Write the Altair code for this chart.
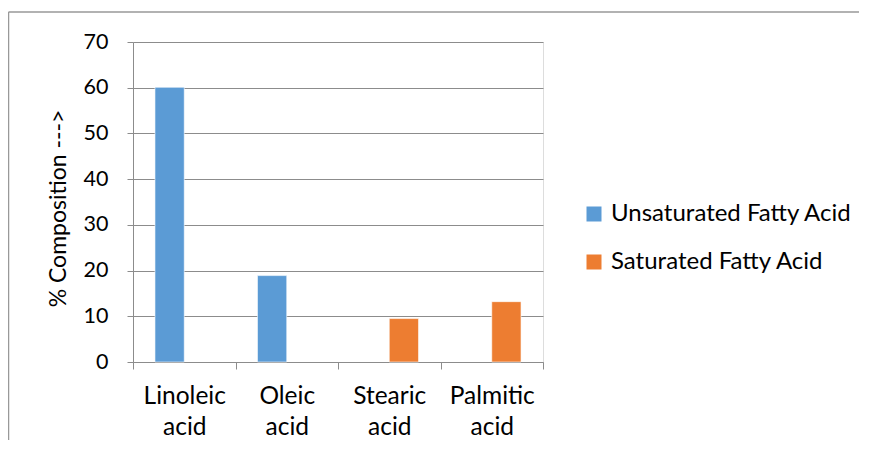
import altair as alt
import pandas as pd

categories = ["Linoleic acid", "Oleic acid", "Stearic acid", "Palmitic acid"]
types = ["Unsaturated Fatty Acid", "Unsaturated Fatty Acid", "Saturated Fatty Acid", "Saturated Fatty Acid"]
values = [60.1, 18.9, 9.5, 13.2]
series = ["Unsaturated Fatty Acid", "Saturated Fatty Acid"]
colors = ["#5B9BD5", "#ED7D31"]
y_ticks = [0, 10, 20, 30, 40, 50, 60, 70]

df = pd.DataFrame({"acid": categories, "type": types, "value": values})

FONT = "Lato"
GRID = "#8C8C8C"

bars = alt.Chart(df).mark_bar(stroke="white", strokeWidth=0.6).encode(
    x=alt.X(
        "acid:N",
        sort=categories,
        scale=alt.Scale(paddingInner=0, paddingOuter=0),
        axis=alt.Axis(
            title=None,
            labelAngle=0,
            labelExpr="split(datum.label, ' ')",
            labelFontSize=24.5,
            labelLineHeight=31,
            labelPadding=15,
            labelColor="black",
            labelFont=FONT,
            labelLimit=300,
            tickBand="extent",
            tickSize=7,
            tickColor=GRID,
            domainColor=GRID,
            grid=False,
        ),
    ),
    xOffset=alt.XOffset(
        "type:N",
        scale=alt.Scale(domain=series, paddingInner=0, paddingOuter=0.75),
    ),
    y=alt.Y(
        "value:Q",
        scale=alt.Scale(domain=[0, 70], nice=False),
        axis=alt.Axis(
            title="% Composition --->",
            values=y_ticks,
            labelFontSize=21.5,
            labelPadding=19,
            labelColor="black",
            labelFont=FONT,
            tickSize=6,
            tickColor=GRID,
            domainColor=GRID,
            gridColor=GRID,
            titleFontSize=23,
            titleFontWeight="normal",
            titleFont=FONT,
            titleColor="black",
            titleAngle=270,
            titleX=-75,
            titleY=166,
            titleAlign="center",
            titleBaseline="middle",
        ),
    ),
    color=alt.Color(
        "type:N",
        scale=alt.Scale(domain=series, range=colors),
        legend=alt.Legend(
            title=None,
            orient="none",
            legendX=449,
            legendY=160,
            symbolType="square",
            symbolSize=225,
            symbolStrokeWidth=0,
            labelFontSize=24,
            labelFont=FONT,
            labelColor="black",
            labelOffset=5,
            labelLimit=400,
            rowPadding=24,
        ),
    ),
)

frame_df = pd.DataFrame({"a": [0]})
frame_top = alt.Chart(frame_df).mark_rule(color="#999999", strokeWidth=1.5).encode(
    x=alt.value(-124.5), x2=alt.value(740), y=alt.value(-30)
)
frame_left = alt.Chart(frame_df).mark_rule(color="#999999", strokeWidth=1.5).encode(
    x=alt.value(-124.5), x2=alt.value(-124.5), y=alt.value(-30), y2=alt.value(420)
)

chart = alt.layer(frame_top, frame_left, bars).properties(
    width=410,
    height=320,
    autosize=alt.AutoSizeParams(type="none"),
    padding={"left": 125, "top": 34, "right": 316, "bottom": 78},
).configure_view(strokeWidth=0).configure(font=FONT)

chart.save("out.html", embed_options={"renderer": "svg", "actions": False})
